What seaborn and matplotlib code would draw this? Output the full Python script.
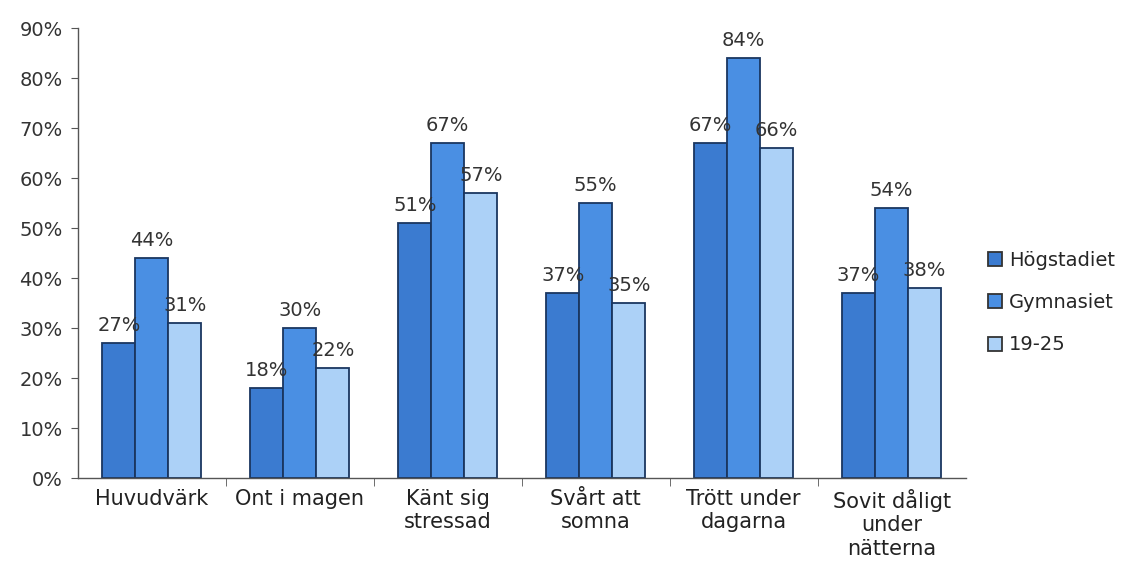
import matplotlib.pyplot as plt
import seaborn as sns
import numpy as np
import pandas as pd

categories = ["Huvudvärk", "Ont i magen", "Känt sig\nstressad", "Svårt att\nsomna",
              "Trött under\ndagarna", "Sovit dåligt\nunder\nnätterna"]
groups = ["Högstadiet", "Gymnasiet", "19-25"]
hogstadiet = [27, 18, 51, 37, 67, 37]
gymnasiet = [44, 30, 67, 55, 84, 54]
unga = [31, 22, 57, 35, 66, 38]
colors = ["#3b7bd0", "#4a8fe3", "#acd1f7"]

df = pd.DataFrame({
    "kategori": categories * 3,
    "grupp": [g for g in groups for _ in categories],
    "andel": hogstadiet + gymnasiet + unga,
})

sns.set_style("white")
plt.rcParams['font.family'] = ['DejaVu Sans']
fig = plt.figure(figsize=(11.38, 5.86), dpi=100)
ax = fig.add_axes([0.0685, 0.184, 0.78, 0.768])

sns.barplot(data=df, x="kategori", y="andel", hue="grupp", palette=colors,
            saturation=1, width=0.67, edgecolor="#1a3660", linewidth=1.3,
            ax=ax, errorbar=None)

for cont in ax.containers:
    ax.bar_label(cont, labels=[f"{int(v)}%" for v in cont.datavalues],
                 padding=6, fontsize=14, color="#333333")

ax.set_ylim(0, 90)
ax.set_xlim(-0.5, len(categories) - 0.5)
ax.set_yticks(np.arange(0, 91, 10))
ax.set_yticklabels([f"{v}%" for v in range(0, 91, 10)], fontsize=14, color="#333333")
ax.set_xticks(np.arange(len(categories)))
ax.set_xticklabels(categories, fontsize=15, color="#222222", linespacing=1.2)
ax.tick_params(axis="x", length=0, pad=8)
ax.tick_params(axis="y", length=5, direction="out", left=True, color="#555555", pad=6)
ax.set_xticks(np.arange(0.5, len(categories) - 0.5, 1), minor=True)
ax.tick_params(axis="x", which="minor", length=6, direction="out", bottom=True, color="#555555")
ax.set_xlabel("")
ax.set_ylabel("")
sns.despine(ax=ax)
for s in ["left", "bottom"]:
    ax.spines[s].set_color("#555555")
    ax.spines[s].set_linewidth(1)

leg = ax.legend(title=None, loc="center left", bbox_to_anchor=(1.005, 0.39),
                frameon=False, fontsize=14, handlelength=0.75, handleheight=0.75,
                labelspacing=1.2, handletextpad=0.35)
for h in leg.legend_handles:
    h.set_edgecolor("#333333")

fig.savefig("out.png", dpi=100, facecolor="white")
